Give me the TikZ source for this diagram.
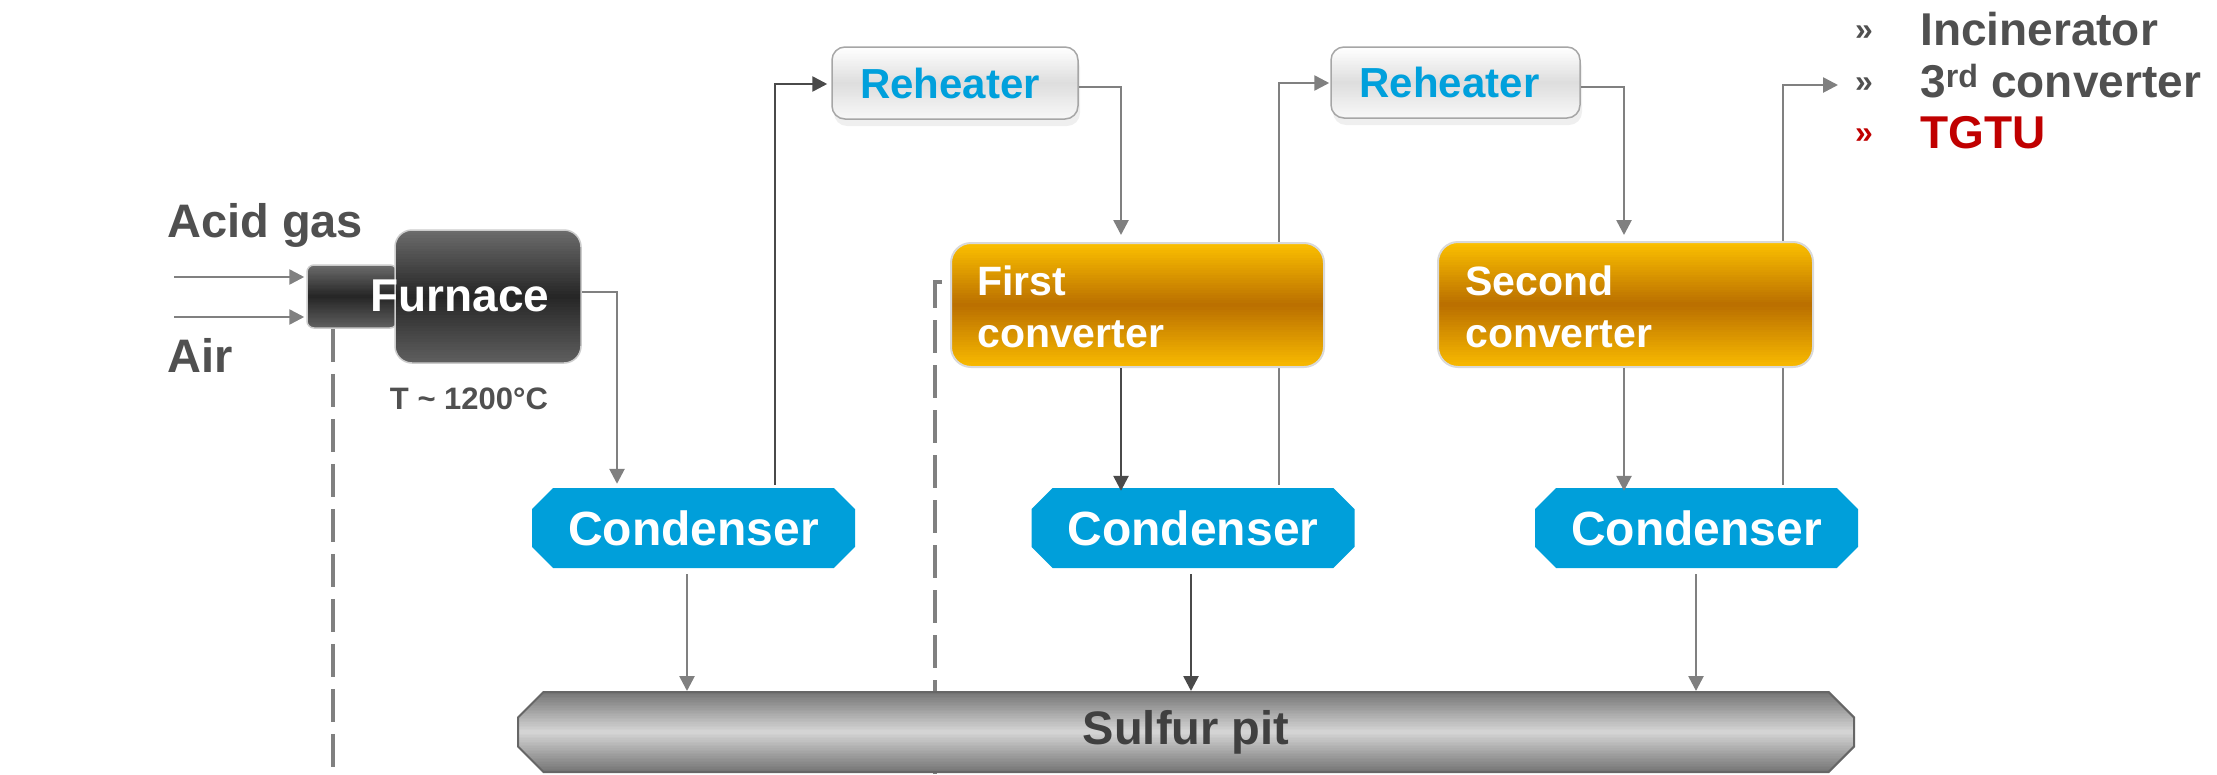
\documentclass[tikz,border=0pt]{standalone}
\usepackage{fontspec}
\setmainfont{Liberation Sans}
\usetikzlibrary{arrows.meta,shapes.misc,backgrounds,shadows,calc}
\definecolor{lgray}{HTML}{808080}
\definecolor{dgray}{HTML}{4A4A4A}
\definecolor{txtgray}{HTML}{505050}
\definecolor{condblue}{HTML}{009FDA}
\definecolor{rhblue}{HTML}{00A0DC}
\definecolor{tgtured}{HTML}{C00000}
\definecolor{convtop}{HTML}{FBBF00}
\definecolor{convmid}{HTML}{B86D00}
\definecolor{convbot}{HTML}{F8B900}
\definecolor{furntop}{HTML}{6B6B6B}
\definecolor{furnmid}{HTML}{242424}
\definecolor{furnbot}{HTML}{5E5E5E}
\definecolor{pitend}{HTML}{767676}
\definecolor{pitmid}{HTML}{D8D8D8}
\definecolor{rhtop}{HTML}{FFFFFF}
\definecolor{rhmid}{HTML}{DDDDDD}
\definecolor{rhbot}{HTML}{F7F7F7}
\begin{document}
\begin{tikzpicture}[x=1pt,y=1pt,
  vgrad/.style n args={3}{path picture={
    \foreach \i in {0,...,24}{
      \pgfmathtruncatemacro{\p}{\i*4}
      \fill[sharp corners, #2!\p!#1] ($(path picture bounding box.north west)!\i/50!(path picture bounding box.south west)$)
        rectangle ($(path picture bounding box.north east)!{(\i+1.3)/50}!(path picture bounding box.south east)$);
    }
    \foreach \i in {25,...,49}{
      \pgfmathtruncatemacro{\p}{(\i-24)*4}
      \fill[sharp corners, #3!\p!#2] ($(path picture bounding box.north west)!\i/50!(path picture bounding box.south west)$)
        rectangle ($(path picture bounding box.north east)!{min(1,(\i+1.3)/50)}!(path picture bounding box.south east)$);
    }
  }},
  lbl/.style={font=\fontsize{47}{56}\selectfont\bfseries, text=txtgray, inner sep=0pt},
  condbox/.style={chamfered rectangle, chamfered rectangle angle=45, chamfered rectangle xsep=23pt,
    fill=condblue, minimum width=323pt, minimum height=80pt, inner sep=0pt, text=white,
    font=\fontsize{48}{56}\selectfont\bfseries},
  reheat/.style={rectangle, rounded corners=13pt, draw=black!35, line width=1.5pt,
    fill=white, vgrad={rhtop}{rhmid}{rhbot},
    drop shadow={opacity=0.12, shadow xshift=2pt, shadow yshift=-7pt},
    text=rhblue, font=\fontsize{42}{50}\selectfont\bfseries, inner sep=0pt},
  conv/.style={rectangle, rounded corners=20pt, draw=black!15, line width=2pt,
    vgrad={convtop}{convmid}{convbot}, inner sep=0pt},
  convtxt/.style={anchor=base west, text=white, font=\fontsize{41}{50}\selectfont\bfseries, inner sep=0pt},
  furn/.style={rectangle, draw=black!20, line width=1.5pt, vgrad={furntop}{furnmid}{furnbot}, inner sep=0pt},
  pitbox/.style={chamfered rectangle, chamfered rectangle angle=45, chamfered rectangle xsep=24pt,
    vgrad={pitend}{pitmid}{pitend}, draw=black!60, line width=2pt,
    minimum width=1336pt, minimum height=80pt, inner sep=0pt, text=black!75,
    font=\fontsize{47}{56}\selectfont\bfseries},
  flow/.style={line width=2.6pt, draw=lgray, -{Triangle[length=15pt,width=15pt]}},
  darkflow/.style={flow, draw=dgray},
  dashedline/.style={line width=4pt, draw=lgray, dash pattern=on 33pt off 12pt},
  listb/.style={anchor=base west, font=\fontsize{32}{36}\selectfont\bfseries, inner sep=0pt},
  listt/.style={anchor=base west, font=\fontsize{46}{52}\selectfont\bfseries, inner sep=0pt}
]
\useasboundingbox (0,0) rectangle (2217,-774);
\begin{pgfonlayer}{background}
  \fill[white] (0,0) rectangle (2217,-774);
\end{pgfonlayer}

% labels
\node[lbl, anchor=base west] (acid) at (167,-237) {Acid gas};
\node[lbl, anchor=base west] (air) at (167,-372) {Air};
\node[anchor=base, font=\fontsize{31}{36}\selectfont\bfseries, text=txtgray, inner sep=0pt] (temp) at (469,-409) {T \textasciitilde{} 1200°C};

% furnace
\node[furn, rounded corners=7pt, minimum width=90pt, minimum height=63pt] (burner) at (352,-296.5) {};
\node[furn, rounded corners=17pt, minimum width=186pt, minimum height=133pt] (furnace) at (488,-296.5) {};
\node[text=white, font=\fontsize{46}{54}\selectfont\bfseries, inner sep=0pt] (furnacetext) at (460,-296) {Furnace};

% reheaters
\node[reheat, minimum width=246pt, minimum height=72pt] (rh1) at (955,-83) {\hspace*{-10pt}Reheater};
\node[reheat, minimum width=249pt, minimum height=71pt] (rh2) at (1455.5,-82.5) {\hspace*{-12pt}Reheater};

% converters
\node[conv, minimum width=373pt, minimum height=124pt] (conv1) at (1137.5,-305) {};
\node[convtxt] (conv1a) at (977,-295) {First};
\node[convtxt] (conv1b) at (977,-347) {converter};
\node[conv, minimum width=375pt, minimum height=125pt] (conv2) at (1625.5,-304.5) {};
\node[convtxt] (conv2a) at (1465,-295) {Second};
\node[convtxt] (conv2b) at (1465,-347) {converter};

% condensers
\node[condbox] (cond1) at (693.5,-528) {Condenser};
\node[condbox] (cond2) at (1193,-528) {Condenser};
\node[condbox] (cond3) at (1696.5,-528) {Condenser};

% sulfur pit
\node[pitbox] (pit) at (1186,-732) {Sulfur pit};

% list
\node[listb, text=txtgray] (bl1) at (1855,-40) {»};
\node[listb, text=txtgray] (bl2) at (1855,-92) {»};
\node[listb, text=tgtured] (bl3) at (1855,-143) {»};
\node[listt, text=txtgray] (incin) at (1920,-45) {Incinerator};
\node[listt, text=txtgray] (third) at (1920,-97) {3\textsuperscript{rd} converter};
\node[listt, text=tgtured] (tgtu) at (1920,-148) {TGTU};

% coordinates
\coordinate (agin) at (174,-277);
\coordinate (airin) at (174,-317);
\coordinate (f1) at (617,-292);
\coordinate (b2) at (775,-84);
\coordinate (b3) at (1121,-87);
\coordinate (b4) at (1279,-83);
\coordinate (b5) at (1624,-87);
\coordinate (b6) at (1783,-85);
\coordinate (listin) at (1838,-85);
\coordinate (d1end) at (333,-774);
\coordinate (d2) at (935,-282);

% connectors
\draw[flow, shorten >=2pt] (agin) -- (agin -| burner.west);
\draw[flow, shorten >=2pt] (airin) -- (airin -| burner.west);
\draw[flow, shorten >=4pt] (furnace.east |- f1) -- (f1) -- (f1 |- cond1.north);
\draw[darkflow, shorten <=3pt, shorten >=4pt] (b2 |- cond1.north) -- (b2) -- (b2 -| rh1.west);
\draw[flow, shorten >=7pt] (rh1.east |- b3) -- (b3) -- (b3 |- conv1.north);
\draw[darkflow, shorten >=-3pt] (b3 |- conv1.south) -- (b3 |- cond2.north);
\draw[flow, shorten >=6pt] (rh2.east |- b5) -- (b5) -- (b5 |- conv2.north);
\draw[flow, shorten >=-3pt] (b5 |- conv2.south) -- (b5 |- cond3.north);
\draw[flow, shorten <=6pt] ([xshift=-6.5pt]cond1.south) -- ([xshift=-6.5pt]cond1.south |- pit.north);
\draw[darkflow, shorten <=6pt] ([xshift=-2pt]cond2.south) -- ([xshift=-2pt]cond2.south |- pit.north);
\draw[flow, shorten <=6pt] ([xshift=-0.5pt]cond3.south) -- ([xshift=-0.5pt]cond3.south |- pit.north);

\begin{pgfonlayer}{background}
  \draw[flow, shorten <=3pt, shorten >=1pt] (b4 |- cond2.north) -- (b4) -- (b4 -| rh2.west);
  \draw[flow, shorten <=3pt] (b6 |- cond3.north) -- (b6) -- (listin);
  \draw[dashedline] ([xshift=-19pt]burner.south) -- (d1end);
  \draw[dashedline, shorten <=8pt] (conv1.west |- d2) -- (d2) -- (d2 |- d1end);
\end{pgfonlayer}
\end{tikzpicture}
\end{document}
